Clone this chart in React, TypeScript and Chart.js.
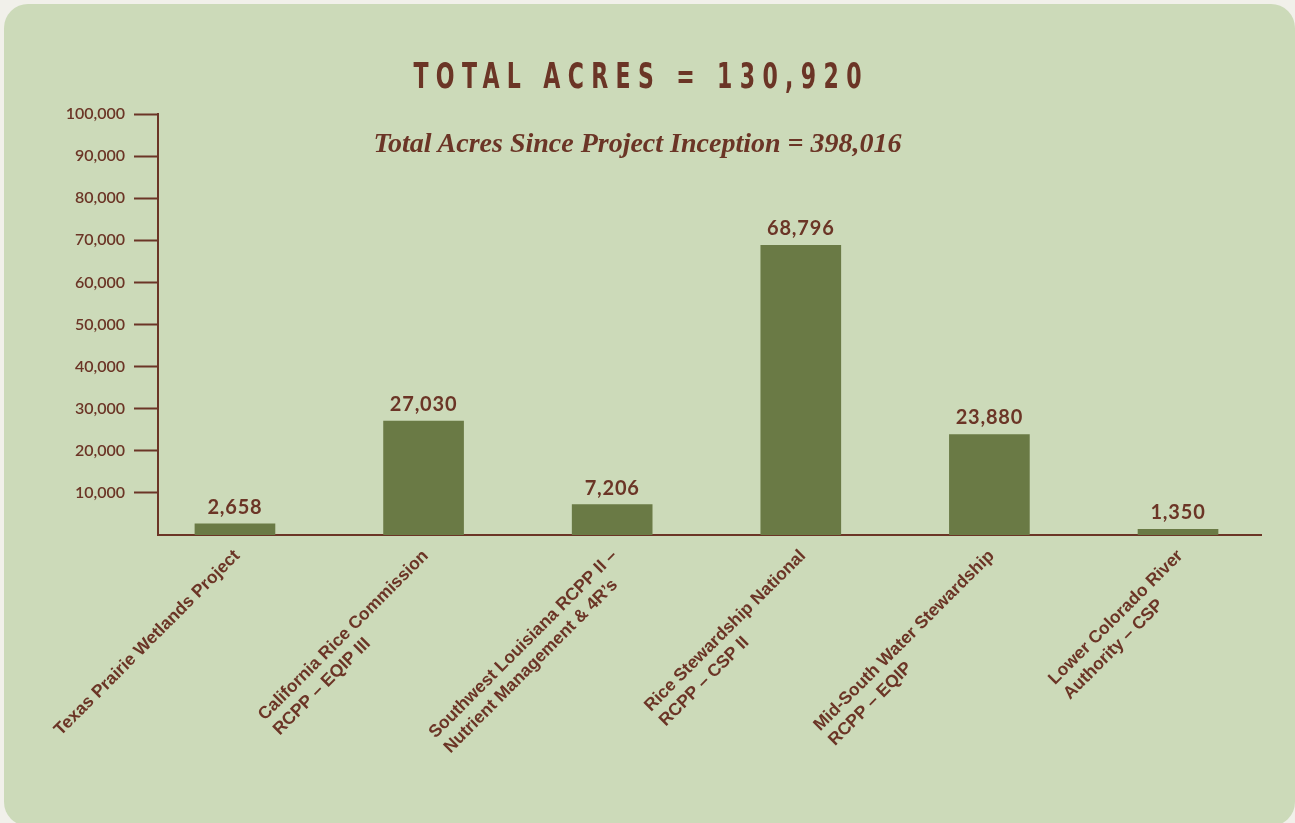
import React, { useEffect, useRef } from "react";
import { Chart, registerables } from "chart.js";

Chart.register(...registerables);

// ---- data ----
const CATEGORY_LINES: string[][] = [
  ["Texas Prairie Wetlands Project"],
  ["California Rice Commission", "RCPP – EQIP III"],
  ["Southwest Louisiana RCPP II –", "Nutrient Management & 4R’s"],
  ["Rice Stewardship National", "RCPP – CSP II"],
  ["Mid-South Water Stewardship", "RCPP – EQIP"],
  ["Lower Colorado River", "Authority – CSP"],
];
const ACRES: number[] = [2658, 27030, 7206, 68796, 23880, 1350];
const Y_TICKS: number[] = [10000, 20000, 30000, 40000, 50000, 60000, 70000, 80000, 90000, 100000];
const TITLE = "TOTAL ACRES = 130,920";
const SUBTITLE = "Total Acres Since Project Inception = 398,016";

// ---- style ----
const BROWN = "#6b3526";
const BAR = "#6a7a45";
const PANEL = "#ccdab9";
const OUTER = "#f1f0ea";

const fmt = (v: number) => v.toLocaleString("en-US");

export default function App() {
  const ref = useRef<HTMLCanvasElement>(null);

  useEffect(() => {
    if (!ref.current) return;

    const labelPlugin = {
      id: "customLabels",
      afterDatasetsDraw(chart: any) {
        const ctx = chart.ctx as CanvasRenderingContext2D;
        const meta = chart.getDatasetMeta(0);
        ctx.save();
        ctx.fillStyle = BROWN;
        ctx.font = "bold 20px Lato, 'Open Sans', sans-serif";
        (ctx as any).letterSpacing = "0.8px";
        ctx.textAlign = "center";
        ctx.textBaseline = "alphabetic";
        meta.data.forEach((el: any, i: number) => {
          ctx.fillText(fmt(ACRES[i]), el.x, el.y - 10);
        });
        (ctx as any).letterSpacing = "0px";

        // rotated category labels (left-aligned blocks)
        const xs = chart.scales.x;
        const y0 = chart.chartArea.bottom + 12;
        ctx.font = "bold 17.5px 'Liberation Sans', Arial, sans-serif";
        CATEGORY_LINES.forEach((lines, i) => {
          const cx = xs.getPixelForValue(i) - 4;
          ctx.save();
          ctx.translate(cx, y0);
          ctx.rotate(-Math.PI / 4);
          const w0 = ctx.measureText(lines[0]).width;
          ctx.textAlign = "left";
          ctx.textBaseline = "top";
          lines.forEach((ln, j) => ctx.fillText(ln, -w0, j * 21));
          ctx.restore();
        });
        ctx.restore();
      },
    };

    const chart = new Chart(ref.current, {
      type: "bar",
      data: {
        datasets: [
          {
            data: ACRES.map((v, i) => ({ x: i, y: v })),
            backgroundColor: BAR,
            borderWidth: 0,
            barThickness: 80,
          },
        ],
      },
      options: {
        animation: false,
        responsive: false,
        layout: { padding: { left: 0, top: 114, right: 34, bottom: 288 } },
        plugins: {
          legend: { display: false },
          tooltip: { enabled: false },
        },
        scales: {
          x: {
            type: "linear",
            min: -0.408,
            max: 5.44,
            grid: { display: false },
            ticks: { display: false },
            border: { display: true, color: BROWN, width: 2 },
            afterBuildTicks: (axis: any) => {
              axis.ticks = [];
            },
            afterFit: (axis: any) => {
              axis.height = 0;
            },
          },
          y: {
            min: 0,
            max: 100000,
            border: { display: true, color: BROWN, width: 2 },
            grid: {
              drawOnChartArea: false,
              drawTicks: true,
              tickLength: 24,
              tickColor: BROWN,
              tickWidth: 2,
            },
            ticks: {
              color: BROWN,
              padding: 9,
              font: { family: "Lato, 'Open Sans', sans-serif", size: 16, weight: 600 },
              callback: (v: any) => fmt(Number(v)),
            },
            afterBuildTicks: (axis: any) => {
              axis.ticks = Y_TICKS.map((v) => ({ value: v }));
            },
            afterFit: (axis: any) => {
              axis.width = 158;
            },
          },
        },
      },
      plugins: [labelPlugin],
    } as any);

    return () => chart.destroy();
  }, []);

  return (
    <div
      style={{
        position: "fixed",
        left: 0,
        top: 0,
        width: 1295,
        height: 823,
        overflow: "hidden",
        background: OUTER,
      }}
    >
      <div
        style={{
          position: "absolute",
          left: 4,
          top: 4,
          width: 1291,
          height: 822,
          borderRadius: 24,
          background: PANEL,
        }}
      />
      <canvas
        ref={ref}
        width={1295}
        height={823}
        style={{ position: "absolute", left: 0, top: 0, width: 1295, height: 823 }}
      />
      <div
        style={{
          position: "absolute",
          left: 0,
          top: 59,
          width: 1275,
          textAlign: "center",
          fontFamily: "'DejaVu Sans Condensed', 'Liberation Sans', sans-serif",
          fontWeight: 700,
          fontSize: 35,
          lineHeight: "34px",
          letterSpacing: 10.5,
          paddingLeft: 10.5,
          boxSizing: "border-box",
          transform: "scaleX(0.7)",
          transformOrigin: "637.5px 50%",
          color: BROWN,
          whiteSpace: "nowrap",
        }}
      >
        {TITLE}
      </div>
      <div
        style={{
          position: "absolute",
          left: 0,
          top: 129,
          width: 1275,
          textAlign: "center",
          fontFamily: "'Liberation Serif', 'DejaVu Serif', serif",
          fontStyle: "italic",
          fontWeight: 700,
          fontSize: 28,
          lineHeight: "27px",
          color: BROWN,
          whiteSpace: "nowrap",
        }}
      >
        {SUBTITLE}
      </div>
    </div>
  );
}
